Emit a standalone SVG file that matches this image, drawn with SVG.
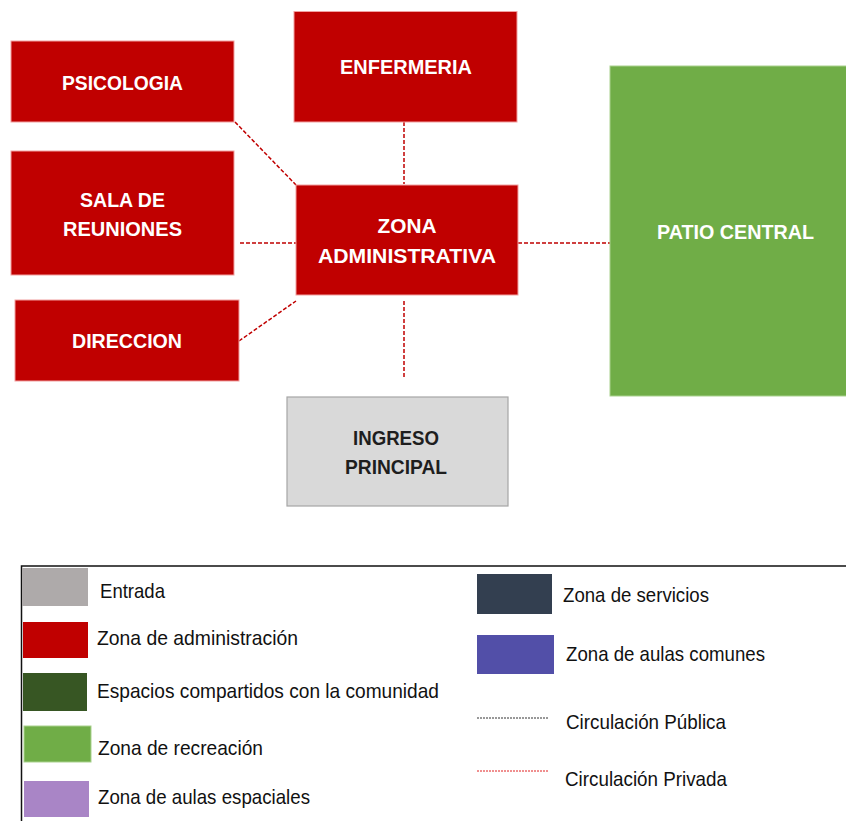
<svg xmlns="http://www.w3.org/2000/svg" width="846" height="821" viewBox="0 0 846 821">
<style>
.red{fill:#C00000;stroke:#F2A0A0;stroke-width:1}
.lbl{font-family:"Liberation Sans",Arial,sans-serif;font-weight:bold;font-size:21px;fill:#FFFFFF;text-anchor:middle}
.dark{fill:#1E1E1E}
.conn{stroke:#C00000;stroke-width:1.5;stroke-dasharray:4,2;fill:none}
.leg{font-family:"Liberation Sans",Arial,sans-serif;font-size:21px;fill:#111111}
</style>
<rect width="846" height="821" fill="#FFFFFF"/>
<g id="connectors">
<line class="conn" x1="404" y1="122" x2="404" y2="184"/>
<line class="conn" x1="235" y1="122" x2="296" y2="185"/>
<line class="conn" x1="240" y1="243" x2="296" y2="243"/>
<line class="conn" x1="239" y1="341" x2="296" y2="301"/>
<line class="conn" x1="404" y1="301" x2="404" y2="378"/>
<line class="conn" x1="518" y1="243" x2="610" y2="243"/>
</g>
<g id="enfermeria">
<rect class="red" x="294" y="11.5" width="223" height="110.5"/>
<text class="lbl" x="406" y="74" textLength="132" lengthAdjust="spacingAndGlyphs">ENFERMERIA</text>
</g>
<g id="psicologia">
<rect class="red" x="11" y="41" width="223" height="81"/>
<text class="lbl" x="122.5" y="90" textLength="121" lengthAdjust="spacingAndGlyphs">PSICOLOGIA</text>
</g>
<g id="sala-reuniones">
<rect class="red" x="11" y="151" width="223" height="124"/>
<text class="lbl" x="122.5" y="207" textLength="85" lengthAdjust="spacingAndGlyphs">SALA DE</text>
<text class="lbl" x="122.5" y="236" textLength="119" lengthAdjust="spacingAndGlyphs">REUNIONES</text>
</g>
<g id="direccion">
<rect class="red" x="15" y="300" width="224" height="81"/>
<text class="lbl" x="127" y="348" textLength="110" lengthAdjust="spacingAndGlyphs">DIRECCION</text>
</g>
<g id="zona-administrativa">
<rect class="red" x="296" y="185" width="222" height="110"/>
<text class="lbl" x="407" y="233" textLength="59" lengthAdjust="spacingAndGlyphs">ZONA</text>
<text class="lbl" x="407" y="263" textLength="178" lengthAdjust="spacingAndGlyphs">ADMINISTRATIVA</text>
</g>
<g id="patio-central">
<rect x="610" y="66" width="240" height="330" fill="#70AD47" stroke="#A9D18E" stroke-width="1"/>
<text class="lbl" x="735.5" y="239" textLength="157" lengthAdjust="spacingAndGlyphs">PATIO CENTRAL</text>
</g>
<g id="ingreso-principal">
<rect x="287" y="397" width="221" height="109" fill="#D9D9D9" stroke="#A6A6A6" stroke-width="1.2"/>
<text class="lbl dark" x="396" y="445" textLength="86" lengthAdjust="spacingAndGlyphs">INGRESO</text>
<text class="lbl dark" x="396" y="474" textLength="102" lengthAdjust="spacingAndGlyphs">PRINCIPAL</text>
</g>
<g id="legend">
<rect x="21.5" y="566" width="830" height="260" fill="none" stroke="#111111" stroke-width="1.5"/>
<rect x="22" y="568" width="66" height="38" fill="#AEAAAA"/>
<text class="leg" x="100" y="598" textLength="65" lengthAdjust="spacingAndGlyphs">Entrada</text>
<rect x="23" y="622" width="65" height="36" fill="#C00000"/>
<text class="leg" x="97" y="645" textLength="201" lengthAdjust="spacingAndGlyphs">Zona de administración</text>
<rect x="23" y="673" width="64" height="38" fill="#375623"/>
<text class="leg" x="97" y="698" textLength="342" lengthAdjust="spacingAndGlyphs">Espacios compartidos con la comunidad</text>
<rect x="24" y="726" width="67" height="36" fill="#70AD47" stroke="#A9D18E" stroke-width="1"/>
<text class="leg" x="98" y="755" textLength="165" lengthAdjust="spacingAndGlyphs">Zona de recreación</text>
<rect x="24" y="781" width="65" height="36" fill="#A985C6"/>
<text class="leg" x="98" y="804" textLength="212" lengthAdjust="spacingAndGlyphs">Zona de aulas espaciales</text>
<rect x="477" y="574" width="75" height="40" fill="#333F50"/>
<text class="leg" x="563" y="602" textLength="146" lengthAdjust="spacingAndGlyphs">Zona de servicios</text>
<rect x="477" y="635" width="77" height="39" fill="#524FA8"/>
<text class="leg" x="566" y="661" textLength="199" lengthAdjust="spacingAndGlyphs">Zona de aulas comunes</text>
<line x1="477" y1="718" x2="548" y2="718" stroke="#333333" stroke-width="1" stroke-dasharray="2,1"/>
<text class="leg" x="566" y="729" textLength="160" lengthAdjust="spacingAndGlyphs">Circulación Pública</text>
<line x1="477" y1="771" x2="548" y2="771" stroke="#E02020" stroke-width="1" stroke-dasharray="2,1"/>
<text class="leg" x="565" y="786" textLength="162" lengthAdjust="spacingAndGlyphs">Circulación Privada</text>
</g>
</svg>
